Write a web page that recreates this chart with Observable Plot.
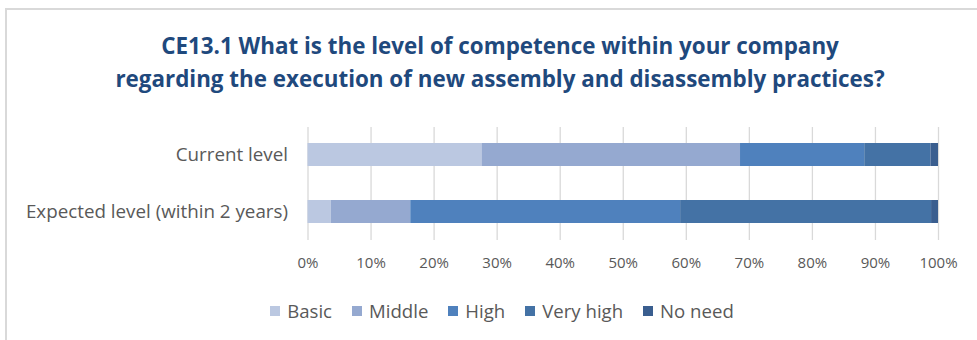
<!DOCTYPE html>
<html>
<head>
<meta charset="utf-8">
<script src="https://cdn.jsdelivr.net/npm/d3@7"></script>
<script src="https://cdn.jsdelivr.net/npm/@observablehq/plot@0.6"></script>
<style>
  html, body { margin: 0; padding: 0; background: #fff; overflow: hidden; }
  body { width: 977px; height: 340px; position: relative; font-family: "Open Sans", sans-serif; }
  #frame { position: absolute; left: 5px; top: 8px; width: 1000px; height: 400px; border-left: 2px solid #d9d9d9; border-top: 2px solid #d9d9d9; box-sizing: border-box; }
  #title { position: absolute; left: 5px; top: 29px; width: 990px; text-align: center; color: #1f497d; font-weight: bold; font-size: 22.4px; line-height: 33px; font-family: "Open Sans", sans-serif; }
  #chart { position: absolute; left: 0; top: 111px; }
  #legend { position: absolute; left: 5px; top: 298px; width: 994px; display: flex; justify-content: center; gap: 20px; font-size: 18.6px; line-height: 26px; color: #595959; font-family: "Open Sans", sans-serif; }
  .item { display: flex; align-items: center; gap: 7px; }
  .sw { width: 10px; height: 10px; display: inline-block; }
</style>
</head>
<body>
<div id="frame"></div>
<div id="title">CE13.1 What is the level of competence within your company<br>regarding the execution of new assembly and disassembly practices?</div>
<div id="chart"></div>
<div id="legend"></div>
<script>
const categories = ["Current level", "Expected level (within 2 years)"];
const levels = ["Basic", "Middle", "High", "Very high", "No need"];
const currentValues = [27.6, 41.0, 19.7, 10.5, 1.2];
const expectedValues = [3.7, 12.6, 42.8, 39.8, 1.1];
const colors = ["#bbc8e1", "#95a9d0", "#4f81bd", "#4472a5", "#3a5e8f"];
const xTicks = [0, 10, 20, 30, 40, 50, 60, 70, 80, 90, 100];

const seriesByCategory = [currentValues, expectedValues];
const rows = [];
categories.forEach((c, ci) => {
  levels.forEach((l, li) => rows.push({category: c, level: l, value: seriesByCategory[ci][li]}));
});

const chart = Plot.plot({
  width: 977,
  height: 175,
  marginTop: 16,
  marginBottom: 46,
  marginLeft: 307.5,
  marginRight: 39,
  style: {fontFamily: "'Open Sans', sans-serif", color: "#595959", background: "transparent"},
  x: {domain: [0, 100], ticks: xTicks, tickFormat: d => d + "%", label: null},
  y: {domain: categories, paddingInner: 0.593, paddingOuter: 0.287, label: null},
  color: {domain: levels, range: colors},
  marks: [
    Plot.gridX(xTicks, {stroke: "#d9d9d9", strokeOpacity: 1, strokeWidth: 1.3}),
    Plot.barX(rows, Plot.stackX({x: "value", y: "category", fill: "level", order: null})),
    Plot.axisX({ticks: xTicks, tickFormat: d => d + "%", tickSize: 0, tickPadding: 17, fontSize: 15, fill: "#595959", label: null}),
    Plot.axisY({tickSize: 0, tickPadding: 20, fontSize: 18.8, fill: "#595959", label: null})
  ]
});
document.getElementById("chart").appendChild(chart);

const legend = document.getElementById("legend");
levels.forEach((l, i) => {
  const item = document.createElement("div");
  item.className = "item";
  const sw = document.createElement("span");
  sw.className = "sw";
  sw.style.background = colors[i];
  const t = document.createElement("span");
  t.textContent = l;
  item.appendChild(sw);
  item.appendChild(t);
  legend.appendChild(item);
});
</script>
</body>
</html>
